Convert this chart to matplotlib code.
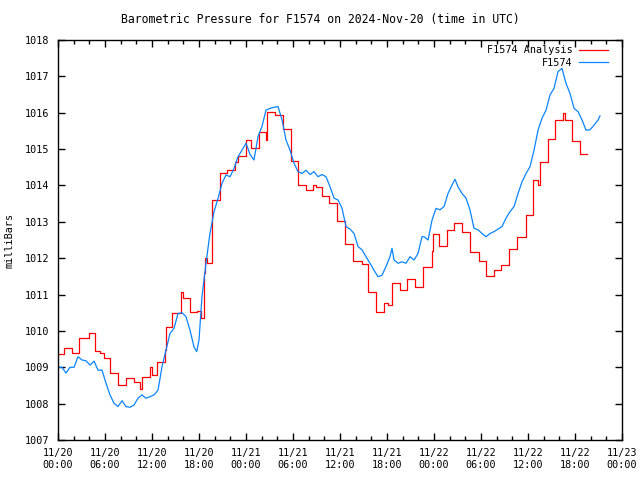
import matplotlib
matplotlib.use("Agg")
import matplotlib.pyplot as plt
from matplotlib.ticker import MultipleLocator

# Hours since 2024-11-20 00:00 UTC
analysis_hours = [0, 0.8, 1.8, 2.7, 3.9, 4.7, 5.4, 5.9, 6.6, 7.7, 8.7, 9.7,
                  10.5, 10.7, 11.7, 12.0, 12.6, 13.6, 13.8, 14.6, 15.7, 15.9,
                  16.9, 17.7, 18.3, 18.6, 18.8, 19.0, 19.6, 20.7, 21.6, 22.6,
                  23.0, 24.0, 24.6, 25.7, 26.5, 26.7, 27.7, 28.7, 29.7, 30.7,
                  31.7, 32.6, 32.9, 33.7, 34.6, 35.6, 36.6, 37.7, 38.8, 39.6,
                  40.6, 41.6, 42.1, 42.7, 43.7, 44.6, 45.6, 46.6, 47.7, 47.9,
                  48.6, 49.6, 50.6, 51.6, 52.6, 53.7, 54.6, 55.6, 56.6, 57.6,
                  58.6, 59.7, 60.6, 61.3, 61.5, 62.6, 63.5, 64.5, 64.7, 65.6,
                  66.6, 67.5]
analysis_mb = [1009.36, 1009.52, 1009.40, 1009.80, 1009.93, 1009.44, 1009.38,
               1009.25, 1008.85, 1008.50, 1008.70, 1008.60, 1008.40, 1008.74,
               1009.01, 1008.78, 1009.14, 1009.47, 1010.11, 1010.48, 1011.08,
               1010.90, 1010.53, 1010.55, 1010.35, 1011.58, 1012.01, 1011.88,
               1013.60, 1014.35, 1014.42, 1014.65, 1014.82, 1015.25, 1015.02,
               1015.46, 1015.25, 1016.01, 1015.93, 1015.54, 1014.66, 1014.00,
               1013.87, 1014.02, 1013.95, 1013.71, 1013.51, 1013.01, 1012.39,
               1011.92, 1011.83, 1011.06, 1010.53, 1010.76, 1010.71, 1011.31,
               1011.12, 1011.42, 1011.20, 1011.77, 1012.20, 1012.66, 1012.34,
               1012.77, 1012.96, 1012.71, 1012.16, 1011.93, 1011.52, 1011.67,
               1011.80, 1012.25, 1012.59, 1013.18, 1014.14, 1014.00, 1014.64,
               1015.29, 1015.80, 1015.98, 1015.80, 1015.22, 1014.86, 1014.86]

obs_hours = [0.0, 0.51, 1.02, 1.53, 2.04, 2.55, 3.06, 3.57, 4.09, 4.60, 5.11,
             5.62, 6.13, 6.64, 7.15, 7.66, 8.17, 8.68, 9.19, 9.70, 10.21,
             10.72, 11.23, 11.74, 12.26, 12.77, 13.28, 13.79, 14.30, 14.81,
             15.32, 15.83, 16.34, 16.85, 17.36, 17.71, 18.0, 18.38, 18.89,
             19.40, 19.92, 20.43, 20.94, 21.45, 21.96, 22.47, 22.98, 23.49,
             24.0, 24.51, 25.02, 25.53, 26.04, 26.55, 27.07, 27.58, 28.09,
             28.60, 29.11, 29.62, 30.13, 30.64, 31.15, 31.66, 32.17, 32.68,
             33.19, 33.70, 34.21, 34.72, 35.24, 35.75, 36.26, 36.77, 37.28,
             37.79, 38.30, 38.81, 39.32, 39.83, 40.34, 40.85, 41.36, 41.87,
             42.38, 42.64, 42.90, 43.41, 43.92, 44.43, 44.94, 45.45, 45.96,
             46.47, 46.73, 47.24, 47.75, 48.26, 48.77, 49.28, 49.79, 50.30,
             50.68, 51.07, 51.58, 52.09, 52.60, 53.11, 53.62, 54.13, 54.64,
             55.15, 55.66, 56.17, 56.68, 57.19, 57.70, 58.22, 58.73, 59.24,
             59.75, 60.26, 60.77, 61.28, 61.79, 62.30, 62.81, 63.32, 63.83,
             64.34, 64.85, 65.36, 65.88, 66.39, 66.90, 67.41, 67.92, 68.43,
             68.94, 69.19]
obs_mb = [1009.00, 1009.00, 1008.84, 1009.00, 1009.00, 1009.29, 1009.20,
          1009.18, 1009.06, 1009.17, 1008.92, 1008.92, 1008.56, 1008.24,
          1008.01, 1007.92, 1008.08, 1007.92, 1007.90, 1007.96, 1008.15,
          1008.24, 1008.15, 1008.19, 1008.24, 1008.37, 1009.02, 1009.47,
          1009.93, 1010.07, 1010.48, 1010.50, 1010.39, 1010.02, 1009.56,
          1009.43, 1009.75, 1010.94, 1011.86, 1012.68, 1013.28, 1013.65,
          1014.06, 1014.29, 1014.24, 1014.47, 1014.79, 1014.97, 1015.16,
          1014.86, 1014.70, 1015.34, 1015.62, 1016.07, 1016.12, 1016.15,
          1016.17, 1015.80, 1015.25, 1014.97, 1014.61, 1014.38, 1014.33,
          1014.42, 1014.30, 1014.38, 1014.24, 1014.30, 1014.24, 1013.97,
          1013.65, 1013.60, 1013.37, 1012.87, 1012.80, 1012.68, 1012.32,
          1012.23, 1012.04, 1011.86, 1011.67, 1011.49, 1011.53, 1011.77,
          1012.04, 1012.27, 1011.95, 1011.86, 1011.90, 1011.86, 1012.04,
          1011.95, 1012.13, 1012.59, 1012.59, 1012.50, 1013.05,
          1013.37, 1013.33, 1013.42, 1013.78, 1014.01, 1014.17, 1013.96,
          1013.78, 1013.65, 1013.32, 1012.82, 1012.78, 1012.68, 1012.59,
          1012.68, 1012.73, 1012.80, 1012.87, 1013.10, 1013.28, 1013.42,
          1013.78, 1014.10, 1014.33, 1014.52, 1014.97, 1015.52, 1015.85,
          1016.07, 1016.49, 1016.67, 1017.13, 1017.22, 1016.81, 1016.53,
          1016.12, 1016.03, 1015.80, 1015.52, 1015.53, 1015.66, 1015.80,
          1015.91]

tick_hours = [0, 6, 12, 18, 24, 30, 36, 42, 48, 54, 60, 66, 72]
tick_labels = ["11/20\n00:00", "11/20\n06:00", "11/20\n12:00", "11/20\n18:00",
               "11/21\n00:00", "11/21\n06:00", "11/21\n12:00", "11/21\n18:00",
               "11/22\n00:00", "11/22\n06:00", "11/22\n12:00", "11/22\n18:00",
               "11/23\n00:00"]

mono = "DejaVu Sans Mono"

fig = plt.figure(figsize=(6.4, 4.8), dpi=100)
ax = fig.add_axes([58 / 640, 40 / 480, 564 / 640, 400 / 480])

# analysis is hourly, drawn as steps; observations as a thin line
ax.step(analysis_hours, analysis_mb, where="post", color="#ff0000",
        lw=0.9, label="F1574 Analysis")
ax.plot(obs_hours, obs_mb, color="#0a84ff", lw=0.9, label="F1574")

ax.set_xlim(0, 72)
ax.set_ylim(1007, 1018)
ax.set_xticks(tick_hours)
ax.set_xticklabels(tick_labels, fontfamily=mono, fontsize=7.3)
ax.xaxis.set_minor_locator(MultipleLocator(2))
ax.yaxis.set_major_locator(MultipleLocator(1))
for lbl in ax.get_yticklabels():
    lbl.set_fontfamily(mono)
    lbl.set_fontsize(7.3)
ax.tick_params(which="both", direction="in", top=True, right=True, width=1)
ax.tick_params(which="major", length=5, pad=6)
ax.tick_params(which="minor", length=3)
for s in ax.spines.values():
    s.set_linewidth(1)

ax.set_ylabel("milliBars", fontfamily=mono, fontsize=7.3, labelpad=8)
fig.text(0.5, 1 - 19 / 480, "Barometric Pressure for F1574 on 2024-Nov-20 (time in UTC)",
         ha="center", va="center", fontfamily=mono, fontsize=8.3)

# legend sits inside the top right corner, text before the line sample
leg = ax.legend(loc="upper right", bbox_to_anchor=(1 - 8 / 564, 1 + 1 / 400),
                frameon=False, markerfirst=False,
                prop={"family": mono, "size": 7.3}, handlelength=2.9,
                handletextpad=0.6, labelspacing=0.25, borderaxespad=0.2)
for t in leg.get_texts():
    t.set_ha("right")

fig.savefig("out.png", dpi=100)
